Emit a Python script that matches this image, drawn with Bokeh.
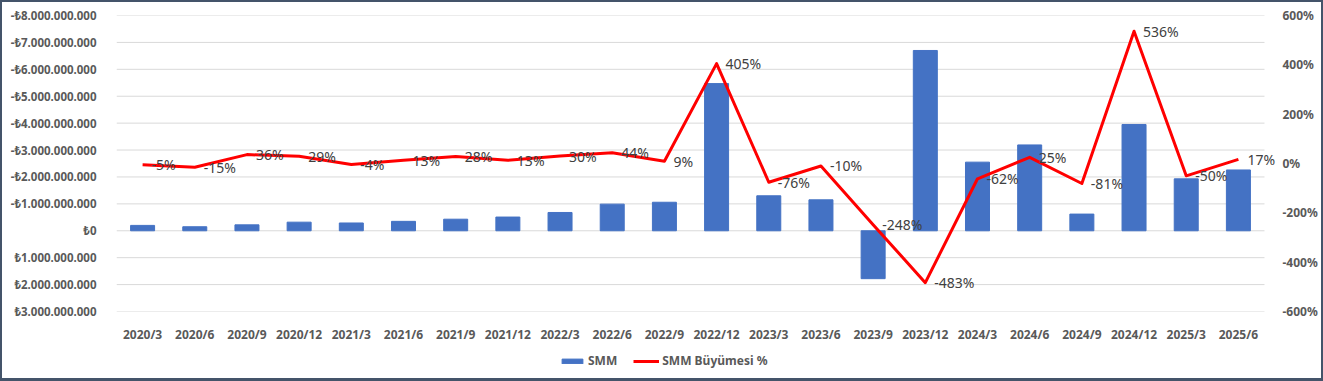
from bokeh.plotting import figure
from bokeh.layouts import column
from bokeh.models import (Range1d, LinearAxis, FixedTicker, Legend,
                          LegendItem, ColumnDataSource)
from bokeh.core.properties import value
from bokeh.embed import file_html
from bokeh.resources import INLINE

quarters = ["2020/3", "2020/6", "2020/9", "2020/12", "2021/3", "2021/6", "2021/9",
            "2021/12", "2022/3", "2022/6", "2022/9", "2022/12", "2023/3", "2023/6",
            "2023/9", "2023/12", "2024/3", "2024/6", "2024/9", "2024/12", "2025/3",
            "2025/6"]
smm = [-0.20e9, -0.15e9, -0.22e9, -0.32e9, -0.29e9, -0.35e9, -0.43e9, -0.51e9,
       -0.68e9, -0.99e9, -1.06e9, -5.47e9, -1.30e9, -1.15e9, 1.78e9, -6.70e9,
       -2.55e9, -3.19e9, -0.62e9, -3.95e9, -1.93e9, -2.26e9]
growth_pct = [-5, -15, 36, 29, -4, 13, 28, 13, 30, 44, 9, 405, -76, -10, -248, -483,
              -62, 25, -81, 536, -50, 17]
left_ticks = [-8e9, -7e9, -6e9, -5e9, -4e9, -3e9, -2e9, -1e9, 0, 1e9, 2e9, 3e9]
right_ticks = [-600, -400, -200, 0, 200, 400, 600]
series_names = ["SMM", "SMM B\u00fcy\u00fcmesi %"]


def lira(v):
    v = int(v)
    s = f"{abs(v):,}".replace(",", ".")
    return ("-" if v < 0 else "") + "\u20ba" + s


FONT = "Noto Sans"
TICK_COLOR = "#595959"
BAR_COLOR = "#4472C4"
LINE_COLOR = "#FF0000"
n = len(quarters)
idx = list(range(n))

src = ColumnDataSource(dict(i=idx, smm=smm, pct=growth_pct,
                            lbl=[f"{g}%" for g in growth_pct]))

# extra room on the right so the last data label is not clipped
p = figure(x_range=Range1d(start=-0.5, end=n - 0.5 + 0.23),
           y_range=Range1d(start=3e9, end=-8e9),
           width=1323, height=345, output_backend="svg", toolbar_location=None,
           min_border_left=116, min_border_right=47, min_border_top=15,
           min_border_bottom=32)
p.extra_y_ranges = {"pct": Range1d(start=-600, end=600)}
p.outline_line_color = None
p.background_fill_color = "white"
p.border_fill_color = "white"

# left axis
ya = p.yaxis[0]
ya.ticker = FixedTicker(ticks=left_ticks)
ya.major_label_overrides = {t: lira(t) for t in left_ticks}
ya.axis_line_color = None
ya.major_tick_line_color = None
ya.minor_tick_line_color = None
ya.major_label_standoff = 14
ya.major_label_text_font = FONT
ya.major_label_text_font_style = "bold"
ya.major_label_text_font_size = "11.5px"
ya.major_label_text_color = TICK_COLOR

# right axis
ra = LinearAxis(y_range_name="pct", ticker=FixedTicker(ticks=right_ticks))
ra.major_label_overrides = {t: f"{t}%" for t in right_ticks}
ra.axis_line_color = None
ra.major_tick_line_color = None
ra.minor_tick_line_color = None
ra.major_label_standoff = 0
ra.major_label_text_font = FONT
ra.major_label_text_font_style = "bold"
ra.major_label_text_font_size = "12px"
ra.major_label_text_color = TICK_COLOR
p.add_layout(ra, "right")

# x axis
xa = p.xaxis[0]
xa.ticker = FixedTicker(ticks=idx)
xa.major_label_overrides = {i: q for i, q in zip(idx, quarters)}
xa.axis_line_color = None
xa.major_tick_line_color = None
xa.minor_tick_line_color = None
xa.major_label_standoff = 8
xa.major_label_text_font = FONT
xa.major_label_text_font_style = "bold"
xa.major_label_text_font_size = "12px"
xa.major_label_text_color = TICK_COLOR

p.xgrid.visible = False
p.ygrid.visible = False
# horizontal gridlines spanning the category area only
p.segment(x0=-0.5, x1=n - 0.5, y0=left_ticks, y1=left_ticks,
          line_color="#D9D9D9", line_width=1)

p.vbar(x="i", top="smm", bottom=0, width=0.46, source=src,
       fill_color=BAR_COLOR, line_color=BAR_COLOR)
p.line(x="i", y="pct", source=src, y_range_name="pct",
       line_color=LINE_COLOR, line_width=3, line_join="round")
p.text(x="i", y="pct", text="lbl", source=src, y_range_name="pct",
       x_offset=9, text_align="left", text_baseline="middle",
       text_font=value(FONT), text_font_size="14px", text_color="#404040")

# legend strip below the chart (same frame margins as the main chart);
# its glyphs reuse the data but the view ranges keep them far out of sight
far = 10 * max(abs(v) for v in smm)
lg = figure(width=1323, height=36, output_backend="svg", toolbar_location=None,
            x_range=Range1d(start=-2 * n - 2, end=-2 * n - 1),
            y_range=Range1d(start=far, end=far + 1),
            min_border_left=116, min_border_right=47, min_border_top=0,
            min_border_bottom=0)
lg.axis.visible = False
lg.grid.visible = False
lg.outline_line_color = None
lg.background_fill_color = "white"
lg.border_fill_color = "white"
r_bar = lg.vbar(x="i", top="smm", bottom=0, width=0.46, source=src,
                fill_color=BAR_COLOR, line_color=BAR_COLOR)
r_line = lg.line(x="i", y="pct", source=src, line_color=LINE_COLOR, line_width=3)

legend = Legend(items=[LegendItem(label=series_names[0], renderers=[r_bar]),
                       LegendItem(label=series_names[1], renderers=[r_line])],
                orientation="horizontal", location=(443, 12))
legend.border_line_color = None
legend.background_fill_alpha = 0
legend.padding = 0
legend.margin = 0
legend.spacing = 16
legend.label_standoff = 3
legend.glyph_width = 26
legend.glyph_height = 6
legend.label_height = 16
legend.label_text_font = FONT
legend.label_text_font_style = "bold"
legend.label_text_font_size = "12px"
legend.label_text_color = TICK_COLOR
legend.label_text_baseline = "middle"
lg.add_layout(legend)

layout = column(p, lg, spacing=0)

html = file_html(layout, INLINE)
# dark frame around the whole chart, as in the reference
frame_css = ("<style>body::after{content:'';position:fixed;left:0;top:0;"
             "width:1323px;height:381px;box-sizing:border-box;"
             "border:2px solid #44546A;border-bottom-width:3px;"
             "pointer-events:none;z-index:9999;}</style>")
html = html.replace("</head>", frame_css + "</head>", 1)
open("out.html", "w").write(html)
